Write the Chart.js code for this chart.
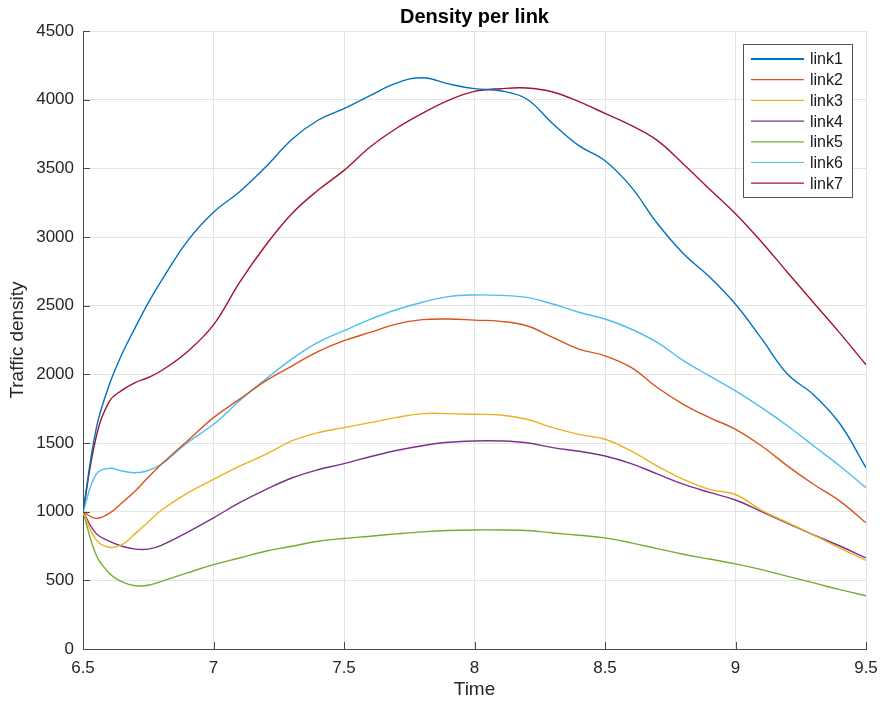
<!DOCTYPE html>
<html>
<head>
<meta charset="utf-8">
<title>Density per link</title>
<script src="https://cdn.jsdelivr.net/npm/chart.js@4.4.1/dist/chart.umd.min.js"></script>
<style>
  html, body { margin: 0; padding: 0; background: #fff; }
  #wrap { width: 880px; height: 704px; }
</style>
</head>
<body>
<div id="wrap"><canvas id="chart" width="880" height="704"></canvas></div>
<script>
// ===== Density per link =====

// sample times (hours)
const times = [6.5, 6.55, 6.6, 6.65, 6.7, 6.75, 6.8, 6.9, 7.0, 7.1, 7.2, 7.3, 7.4, 7.5, 7.6, 7.7, 7.8, 7.9,
  8.0, 8.1, 8.2, 8.3, 8.4, 8.5, 8.6, 8.7, 8.8, 8.9, 9.0, 9.1, 9.2, 9.3, 9.4, 9.5];

// traffic density per link
const link1 = [1000, 1600, 1920, 2150, 2340, 2520, 2680, 2970, 3180, 3330, 3510, 3710, 3850, 3935, 4030, 4120, 4160, 4115,
  4080, 4065, 4005, 3825, 3665, 3555, 3365, 3100, 2880, 2710, 2510, 2260, 2000, 1850, 1640, 1320];
const link2 = [1000, 951, 987, 1065, 1150, 1250, 1345, 1515, 1685, 1819, 1953, 2060, 2165, 2245, 2305, 2366, 2398, 2403,
  2395, 2386, 2354, 2269, 2184, 2135, 2050, 1904, 1782, 1685, 1600, 1478, 1332, 1198, 1077, 919];
const link3 = [1000, 797, 741, 760, 840, 925, 1010, 1135, 1235, 1332, 1417, 1515, 1575, 1612, 1648, 1685, 1714, 1714,
  1709, 1704, 1673, 1612, 1563, 1527, 1442, 1332, 1235, 1162, 1125, 1010, 920, 830, 735, 645];
const link4 = [1000, 842, 785, 748, 727, 727, 755, 850, 955, 1065, 1160, 1245, 1305, 1350, 1400, 1445, 1480, 1505,
  1515, 1515, 1502, 1466, 1440, 1405, 1350, 1275, 1200, 1140, 1085, 1000, 915, 830, 750, 663];
const link5 = [1000, 687, 554, 488, 461, 464, 493, 554, 614, 663, 712, 748, 785, 805, 821, 838, 853, 863,
  867, 867, 863, 845, 828, 809, 773, 731, 690, 655, 620, 578, 529, 481, 432, 388];
const link6 = [1000, 1271, 1315, 1296, 1283, 1300, 1345, 1502, 1636, 1807, 1965, 2111, 2232, 2318, 2400, 2470, 2525, 2566,
  2578, 2575, 2560, 2512, 2452, 2403, 2330, 2232, 2100, 1989, 1880, 1758, 1624, 1478, 1332, 1174];
const link7 = [1000, 1540, 1800, 1885, 1940, 1977, 2026, 2165, 2360, 2670, 2940, 3170, 3340, 3485, 3655, 3790, 3900, 3995,
  4060, 4080, 4085, 4056, 3985, 3900, 3813, 3704, 3532, 3350, 3170, 2964, 2740, 2520, 2300, 2070];

const seriesNames = ["link1", "link2", "link3", "link4", "link5", "link6", "link7"];
const seriesValues = [link1, link2, link3, link4, link5, link6, link7];
const seriesColors = ["#0072BD", "#D95319", "#EDB120", "#7E2F8E", "#77AC30", "#4DBEEE", "#A2142F"];

// axis ticks
const xTicks = [6.5, 7, 7.5, 8, 8.5, 9, 9.5];
const yTicks = [0, 500, 1000, 1500, 2000, 2500, 3000, 3500, 4000, 4500];

const FONT = "'Liberation Sans', Arial, Helvetica, sans-serif";
const AXIS_COLOR = "#4a4a4a";
const GRID_COLOR = "#e3e3e3";

// Title, inward ticks and legend box drawn in the MATLAB style
const matlabStyle = {
  id: "matlabStyle",
  afterDraw(chart) {
    const ctx = chart.ctx;
    const area = chart.chartArea;
    const xs = chart.scales.x;
    const ys = chart.scales.y;

    // inward tick marks
    ctx.save();
    ctx.strokeStyle = AXIS_COLOR;
    ctx.lineWidth = 1;
    ctx.beginPath();
    xTicks.forEach(v => {
      const px = Math.round(xs.getPixelForValue(v)) + 0.5;
      ctx.moveTo(px, area.bottom);
      ctx.lineTo(px, area.bottom - 7);
    });
    yTicks.forEach(v => {
      const py = Math.round(ys.getPixelForValue(v)) + 0.5;
      ctx.moveTo(area.left, py);
      ctx.lineTo(area.left + 7, py);
    });
    ctx.stroke();

    // title
    ctx.fillStyle = "#000";
    ctx.font = "bold 20px " + FONT;
    ctx.textAlign = "center";
    ctx.textBaseline = "middle";
    ctx.fillText("Density per link", (area.left + area.right) / 2, 17);

    // legend
    const bx = 743.5, by = 44.5, bw = 109, bh = 153;
    ctx.fillStyle = "#fff";
    ctx.fillRect(bx, by, bw, bh);
    ctx.strokeStyle = "#555";
    ctx.strokeRect(bx, by, bw, bh);
    ctx.font = "16px " + FONT;
    ctx.textAlign = "left";
    seriesNames.forEach((name, i) => {
      const rowY = 59 + i * 20.7;
      ctx.strokeStyle = seriesColors[i];
      ctx.lineWidth = i === 0 ? 2 : 1.2;
      ctx.beginPath();
      ctx.moveTo(751, rowY);
      ctx.lineTo(804, rowY);
      ctx.stroke();
      ctx.fillStyle = "#1a1a1a";
      ctx.fillText(name, 810, rowY + 1);
    });
    ctx.restore();
  }
};

const datasets = seriesNames.map((name, i) => ({
  label: name,
  data: times.map((t, j) => ({ x: t, y: seriesValues[i][j] })),
  borderColor: seriesColors[i],
  backgroundColor: seriesColors[i],
  borderWidth: 1.4,
  pointRadius: 0,
  fill: false,
  tension: 0.4
}));

const ctx = document.getElementById("chart").getContext("2d");
const chart = new Chart(ctx, {
  type: "line",
  data: { datasets },
  options: {
    responsive: false,
    animation: false,
    devicePixelRatio: 1,
    layout: { padding: { top: 31, right: 14, bottom: 0, left: 0 } },
    plugins: {
      legend: { display: false },
      title: { display: false },
      tooltip: { enabled: false }
    },
    scales: {
      x: {
        type: "linear",
        min: 6.5,
        max: 9.5,
        afterBuildTicks: scale => { scale.ticks = xTicks.map(v => ({ value: v })); },
        afterFit: scale => {
          scale.height = 55;
          scale.paddingLeft = 0;
          scale.paddingRight = 0;
        },
        ticks: {
          color: "#262626",
          font: { family: FONT, size: 17 },
          padding: 9,
          maxRotation: 0,
          callback: v => String(v)
        },
        grid: { color: GRID_COLOR, drawTicks: false },
        border: { display: true, color: AXIS_COLOR, width: 1 },
        title: {
          display: true,
          text: "Time",
          color: "#262626",
          font: { family: FONT, size: 19 },
          padding: { top: 0, bottom: 3 }
        }
      },
      y: {
        min: 0,
        max: 4500,
        afterBuildTicks: scale => { scale.ticks = yTicks.map(v => ({ value: v })); },
        afterFit: scale => { scale.width = 83; },
        ticks: {
          color: "#262626",
          font: { family: FONT, size: 17 },
          padding: 9,
          callback: v => String(v)
        },
        grid: { color: GRID_COLOR, drawTicks: false },
        border: { display: true, color: AXIS_COLOR, width: 1 },
        title: {
          display: true,
          text: "Traffic density",
          color: "#262626",
          font: { family: FONT, size: 19 },
          padding: { top: 6, bottom: 0 }
        }
      }
    }
  },
  plugins: [matlabStyle]
});
</script>
</body>
</html>
